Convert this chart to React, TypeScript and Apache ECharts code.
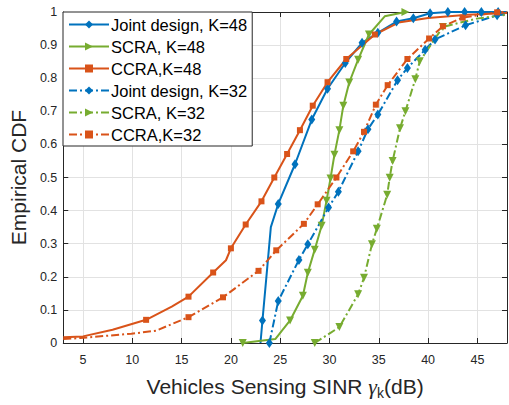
import React, { useEffect, useRef } from "react";
import * as echarts from "echarts";

// ---- data ----
const jointK48X = [23.0, 23.2, 23.6, 24.05, 24.8, 26.5, 28.2, 29.8, 31.6, 33.3, 34.9, 36.8, 38.5, 40.2, 42.0, 43.7, 45.4, 47.1, 48];
const jointK48Y = [0, 0.068, 0.2, 0.35, 0.42, 0.54, 0.675, 0.768, 0.846, 0.907, 0.937, 0.971, 0.981, 0.996, 1, 1, 1, 1, 1];

const scraK48X = [21.2, 24.5, 26.0, 27.3, 27.8, 28.5, 29.2, 29.7, 30.1, 30.5, 31.0, 31.4, 32.0, 32.9, 34.0, 35.6, 37.7];
const scraK48Y = [0, 0.012, 0.068, 0.143, 0.212, 0.282, 0.354, 0.43, 0.497, 0.569, 0.643, 0.717, 0.787, 0.856, 0.932, 0.987, 1.0];

const ccraK48X = [3, 5, 8, 11.4, 14, 15.7, 18.2, 19.5, 20.0, 21.5, 23.1, 24.4, 25.7, 27.0, 28.3, 29.8, 31.7, 34.6, 37, 40, 44, 48];
const ccraK48Y = [0.017, 0.02, 0.04, 0.07, 0.11, 0.14, 0.213, 0.25, 0.286, 0.358, 0.428, 0.5, 0.571, 0.643, 0.717, 0.788, 0.858, 0.932, 0.968, 0.982, 0.992, 0.997];

const jointK32X = [23.9, 24.8, 26.9, 27.8, 29.9, 30.9, 32.9, 33.9, 34.9, 36.9, 37.9, 39.7, 40.7, 43.8, 47.0, 48];
const jointK32Y = [0, 0.127, 0.251, 0.298, 0.409, 0.457, 0.579, 0.646, 0.69, 0.794, 0.831, 0.886, 0.917, 0.96, 0.99, 0.993];

const scraK32X = [28.5, 31.0, 32.9, 33.5, 34.3, 34.8, 35.85, 36.1, 36.4, 37.15, 37.7, 38.7, 39.15, 41.5, 44.9, 48];
const scraK32Y = [0, 0.048, 0.147, 0.197, 0.298, 0.345, 0.448, 0.499, 0.55, 0.649, 0.7, 0.797, 0.851, 0.955, 0.98, 0.992];

const ccraK32X = [3, 4.7, 9.9, 12.4, 14.8, 15.7, 19.2, 22.8, 24.6, 27.4, 28.8, 30.7, 32.4, 33.5, 34.7, 35.9, 37.9, 40.1, 41.5, 43.5, 47.0, 48];
const ccraK32Y = [0.012, 0.015, 0.028, 0.037, 0.067, 0.078, 0.138, 0.218, 0.28, 0.36, 0.419, 0.5, 0.579, 0.638, 0.72, 0.779, 0.858, 0.92, 0.957, 0.983, 0.999, 1.0];

const seriesNames = [
  "Joint design, K=48",
  "SCRA, K=48",
  "CCRA,K=48",
  "Joint design, K=32",
  "SCRA, K=32",
  "CCRA,K=32",
];

const xTickStep = 5;
const yTickStep = 0.1;

const BLUE = "#0072BD";
const ORANGE = "#D95319";
const GREEN = "#77AC30";
const AX = "#262626";
const FONT = "'Liberation Sans', Arial, Helvetica, sans-serif";

function build(xs: number[], ys: number[], hide: number[], rot?: (i: number) => number | undefined) {
  return xs.map((x, i) => {
    const item: any = { value: [x, ys[i]] };
    if (hide.includes(i)) item.symbol = "none";
    if (rot) {
      const r = rot(i);
      if (r !== undefined) item.symbolRotate = r;
    }
    return item;
  });
}

export default function App() {
  const ref = useRef<HTMLDivElement>(null);
  useEffect(() => {
    const chart = echarts.init(ref.current!, null, { renderer: "svg" });
    const dashDot = [8, 3, 2, 3];
    const base = (name: string, color: string, dashed: boolean) => ({
      name,
      type: "line",
      xAxisIndex: 0,
      yAxisIndex: 0,
      color,
      lineStyle: { color, width: 2, type: dashed ? dashDot : "solid" },
      itemStyle: { color, borderWidth: 0 },
      emphasis: { disabled: true },
      clip: true,
    });
    const option: any = {
      animation: false,
      backgroundColor: "#ffffff",
      grid: { left: 63, right: 2, top: 12, bottom: 56 },
      legend: {
        left: 63,
        top: 12,
        orient: "vertical",
        itemWidth: 40,
        itemHeight: 10,
        itemGap: 3,
        padding: [3, 5, 2, 5],
        backgroundColor: "#ffffff",
        borderColor: AX,
        borderWidth: 1,
        borderRadius: 0,
        textStyle: { fontFamily: FONT, fontSize: 16.5, lineHeight: 19, color: "#000", padding: [0, 0, 0, -3] },
        data: seriesNames.map((n) => ({ name: n })),
        z: 10,
      },
      xAxis: [
        {
          type: "value",
          min: 3,
          max: 48,
          splitNumber: 45 / xTickStep,
          name: "{a|Vehicles Sensing SINR }{g|γ}{s|k}{a|(dB)}",
          nameLocation: "middle",
          nameGap: 30,
          nameTextStyle: {
            rich: {
              a: { fontFamily: FONT, fontSize: 21, color: AX },
              g: { fontFamily: "'Liberation Serif', serif", fontStyle: "italic", fontSize: 22, color: AX },
              s: { fontFamily: FONT, fontSize: 14, color: AX, padding: [13, 0, 0, 0] },
            },
          },
          axisLine: { show: true, lineStyle: { color: AX, width: 1 } },
          axisTick: { show: true, inside: true, length: 5, lineStyle: { color: AX } },
          axisLabel: { fontFamily: FONT, fontSize: 12.5, color: AX, margin: 10, showMinLabel: false, showMaxLabel: false },
          splitLine: { show: true, lineStyle: { color: "#e2e2e2", width: 1 } },
        },
        {
          type: "value",
          position: "top",
          min: 3,
          max: 48,
          splitNumber: 45 / xTickStep,
          axisLine: { show: true, onZero: false, lineStyle: { color: AX, width: 1 } },
          axisTick: { show: true, inside: true, length: 5, lineStyle: { color: AX } },
          axisLabel: { show: false },
          splitLine: { show: false },
        },
      ],
      yAxis: [
        {
          type: "value",
          min: 0,
          max: 1,
          interval: yTickStep,
          name: "Empirical CDF",
          nameLocation: "middle",
          nameGap: 33,
          nameTextStyle: { fontFamily: FONT, fontSize: 21, color: AX },
          axisLine: { show: true, lineStyle: { color: AX, width: 1 } },
          axisTick: { show: true, inside: true, length: 5, lineStyle: { color: AX } },
          axisLabel: { fontFamily: FONT, fontSize: 12.5, color: AX, margin: 6 },
          splitLine: { show: true, lineStyle: { color: "#e2e2e2", width: 1 } },
        },
        {
          type: "value",
          position: "right",
          min: 0,
          max: 1,
          interval: yTickStep,
          axisLine: { show: true, onZero: false, lineStyle: { color: AX, width: 1 } },
          axisTick: { show: true, inside: true, length: 5, lineStyle: { color: AX } },
          axisLabel: { show: false },
          splitLine: { show: false },
        },
      ],
      series: [
        {
          ...base(seriesNames[0], BLUE, false),
          symbol: "diamond",
          symbolSize: [7, 10],
          data: build(jointK48X, jointK48Y, [0, 2, 3, 18]),
        },
        {
          ...base(seriesNames[1], GREEN, false),
          symbol: "triangle",
          symbolSize: 8,
          symbolRotate: -90,
          data: build(scraK48X, scraK48Y, [1, 15], (i) => (i === scraK48X.length - 1 ? -90 : 180)),
        },
        {
          ...base(seriesNames[2], ORANGE, false),
          symbol: "rect",
          symbolSize: 6,
          data: build(ccraK48X, ccraK48Y, [0, 1, 2, 4, 7, 18, 19, 20, 21]),
        },
        {
          ...base(seriesNames[3], BLUE, true),
          symbol: "diamond",
          symbolSize: [7, 10],
          data: build(jointK32X, jointK32Y, [15]),
        },
        {
          ...base(seriesNames[4], GREEN, true),
          symbol: "triangle",
          symbolSize: 8,
          symbolRotate: -90,
          data: build(scraK32X, scraK32Y, [14, 15], () => 180),
        },
        {
          ...base(seriesNames[5], ORANGE, true),
          symbol: "rect",
          symbolSize: 6,
          data: build(ccraK32X, ccraK32Y, [0, 1, 2, 3, 4, 21]),
        },
      ],
    };
    chart.setOption(option);
    return () => chart.dispose();
  }, []);
  return <div ref={ref} style={{ position: "absolute", left: 0, top: 0, width: 509, height: 405 }} />;
}
